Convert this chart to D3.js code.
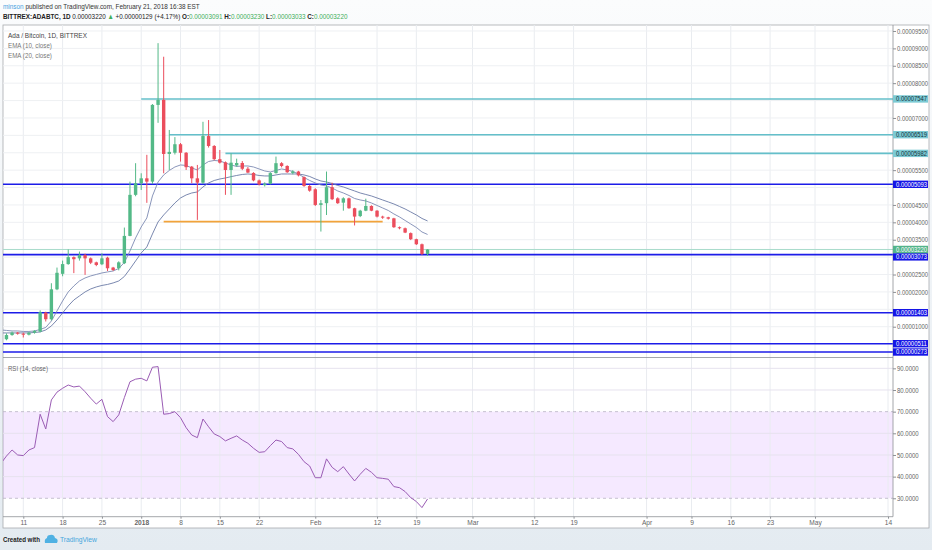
<!DOCTYPE html>
<html>
<head>
<meta charset="utf-8">
<script src="https://cdn.jsdelivr.net/npm/d3@7"></script>
<style>
  body { margin:0; background:#eef2f5; }
  svg { display:block; font-family:"Liberation Sans", Arial, sans-serif; }
</style>
</head>
<body>
<div id="chart"></div>
<script>
// Daily candles ADA/BTC, values in satoshi (1e-8 BTC)
const firstCandle = '2017-12-08';
const opens = [640,760,830,800,770,830,
    860,1405,1215,2075,2520,2800,3000,2965,3060,2965,
    2850,2795,2985,2700,2680,2825,3610,4790,5125,5265,
    5170,7375,7520,5965,6000,6245,6000,5600,5265,5140,
    6480,6195,5815,5725,5505,5635,5705,5540,5420,5205,
    5070,5110,5415,5700,5620,5420,5460,5300,5045,4950,
    4500,4550,5010,4690,4565,4690,4405,4180,4335,4470,
    4335,4165,4145,4115,3860,3830,3690,3515,3370,3091];
const highs = [810,860,850,830,850,900,
    1470,1430,2250,2700,2900,3220,3020,3160,3100,2990,
    2870,3110,3010,2720,2880,3850,5170,5700,5410,5940,
    7400,9150,8760,6655,6450,6280,6020,5620,5650,6890,
    6940,6220,6080,5750,5980,5830,5760,5590,5440,5230,
    5150,5440,5890,5730,5640,5500,5480,5320,5080,4980,
    4640,5460,5140,4720,4720,4710,4420,4360,4680,4490,
    4350,4190,4160,4130,3880,3850,3710,3530,3390,3230];
const lows = [610,740,770,690,750,800,
    840,1150,1180,2050,2450,2780,2540,2900,2490,2800,
    2740,2770,2600,2600,2620,2800,3600,4750,4930,4560,
    5100,6860,5410,5505,5950,5745,5505,5125,4070,5100,
    6150,5780,5690,4790,4790,5600,5500,5420,5180,5060,
    5030,5090,5400,5580,5420,5380,5320,5020,4880,4470,
    3735,4210,4640,4530,4335,4390,3910,4150,4320,4320,
    4140,4100,4080,3840,3800,3690,3490,3350,3060,3033];
const closes = [760,830,800,770,830,880,
    1415,1215,2075,2550,2800,3000,2940,3060,2965,2840,
    2775,2965,2680,2630,2850,3610,4790,5125,5265,5170,
    7375,7520,5965,6025,6245,6000,5585,5265,5140,6480,
    6195,5815,5715,5505,5715,5705,5540,5430,5205,5090,
    5110,5415,5700,5620,5440,5460,5350,5045,4910,4500,
    4550,5010,4665,4550,4690,4405,4165,4335,4470,4335,
    4165,4135,4105,3860,3830,3705,3515,3370,3090,3220];

// Indicators start one day earlier (cut by the pane edge)
const firstIndicator = '2017-12-07';
const ema10 = [907,893,878,878,864,864,878,
    921,979,1165,1453,1740,1999,2171,2315,2401,2459,
    2502,2545,2574,2602,2674,2847,3177,3551,3867,4126,
    4758,5160,5362,5491,5591,5649,5635,5563,5505,5649,
    5749,5778,5764,5706,5649,5606,5620,5620,5591,5534,
    5476,5448,5491,5534,5505,5462,5390,5290,5203,5132,
    5074,5045,4988,4902,4844,4772,4686,4643,4614,4557,
    4485,4413,4341,4241,4155,4054,3953,3853,3723,3651];
const ema20 = [821,821,821,821,821,821,835,
    849,907,1022,1194,1395,1597,1769,1884,1999,2085,
    2143,2186,2215,2258,2315,2444,2660,2890,3120,3292,
    3666,4011,4212,4384,4557,4701,4787,4844,4873,5017,
    5132,5203,5246,5275,5313,5347,5376,5390,5376,5347,
    5333,5333,5362,5390,5390,5390,5390,5362,5318,5247,
    5189,5160,5117,5060,5017,4959,4902,4844,4801,4758,
    4701,4643,4586,4528,4456,4384,4298,4212,4112,4040];
const rsi = [46,49.5,52.3,50,49.7,52.3,53.4,
    68.8,62,75.4,79,80.8,82.3,81.4,81.8,79.2,76.2,
    73.5,75.7,67.7,65.4,68.5,76.5,83.8,85,85.4,84.2,
    90.5,90.8,68.8,69.1,70,67.2,62.6,59.2,58,66.6,
    63,59.7,58.5,56.5,57.7,58.8,56.9,55.4,53.1,51.2,
    51.5,54.3,56.9,56.2,53.4,52.8,50.3,46.9,44.9,39.5,
    39.5,48.2,44.3,42.3,44.6,41.2,38,41.1,43.8,42,
    39.5,39.2,38.8,35.4,34.9,33.1,30.3,28.5,25.7,29.7];

// Axis ticks
const priceTicks = [1000,1500,2000,2500,3000,3500,4000,4500,5000,5500,6000,6500,7000,7500,8000,8500,9000,9500];
const rsiTicks = [30,40,50,60,70,80,90];
const xTickDates = ['2017-12-11','2017-12-18','2017-12-25','2018-01-01','2018-01-08','2018-01-15','2018-01-22',
    '2018-02-01','2018-02-12','2018-02-19','2018-03-01','2018-03-12','2018-03-19','2018-04-01','2018-04-09',
    '2018-04-16','2018-04-23','2018-05-01','2018-05-14'];
const xTickLabels = ['11','18','25','2018','8','15','22','Feb','12','19','Mar','12','19','Apr','9','16','23','May','14'];

// Drawn levels
const blueLevels = [5093,3073,1403,511,273];
const tealLevels = [7547,6519,5982];
const tealStarts = ['2018-01-01','2018-01-06','2018-01-16'];
const orangeLevel = 4020;
const orangeSpan = ['2018-01-05','2018-02-13'];
const lastPrice = 3220;

const width = 932, height = 550;
const paneL = 3, paneR = 893, paneT = 25, paneSplit = 357.5, paneB = 516.7;

const parse = d3.utcParse('%Y-%m-%d');
const fmt = v => (v/1e8).toFixed(8);

const x = d3.scaleUtc().domain([parse('2017-12-11'), parse('2018-05-14')]).range([23.3, 888]);
const y = d3.scaleLinear().domain([115, 9672]).range([paneSplit, paneT]);
const yR = d3.scaleLinear().domain([21.5, 95]).range([paneB, paneSplit]);

const candles = opens.map((o,i)=>({
    date: d3.utcDay.offset(parse(firstCandle), i), o:o, h:highs[i], l:lows[i], c:closes[i]}));
const ind = ema10.map((e,i)=>({
    date: d3.utcDay.offset(parse(firstIndicator), i), e10:e, e20:ema20[i], rsi:rsi[i]}));

// squeeze a text horizontally to the width it has in the picture
function fitWidth(sel, w){
    const len = sel.node().getComputedTextLength();
    const x0 = +sel.attr('x');
    sel.attr('transform','translate('+x0+',0) scale('+(w/len)+',1) translate('+(-x0)+',0)');
}

const svg = d3.select('#chart').append('svg')
    .attr('width', width)
    .attr('height', height);

// page background
const defs = svg.append('defs');
const grad = defs.append('linearGradient')
    .attr('id','bg').attr('x1',0).attr('y1',0).attr('x2',0).attr('y2',1);
grad.append('stop').attr('offset','0%').attr('stop-color','#fbfcfd');
grad.append('stop').attr('offset','100%').attr('stop-color','#e4ebf1');
svg.append('rect').attr('width',width).attr('height',height).style('fill','url(#bg)');

defs.append('clipPath').attr('id','mainClip')
    .append('rect').attr('x',paneL).attr('y',paneT).attr('width',paneR-paneL).attr('height',paneSplit-paneT);
defs.append('clipPath').attr('id','rsiClip')
    .append('rect').attr('x',paneL).attr('y',paneSplit).attr('width',paneR-paneL).attr('height',paneB-paneSplit);

// chart frame
svg.append('rect')
    .attr('x',paneL).attr('y',paneT).attr('width',926).attr('height',528-paneT)
    .style('fill','#ffffff')
    .style('stroke','#a9abae')
    .style('stroke-width',0.8);

// RSI band
svg.append('rect')
    .attr('x',paneL).attr('width',paneR-paneL)
    .attr('y',yR(70)).attr('height',yR(30)-yR(70))
    .style('fill','#9c27ff').style('fill-opacity',0.1);

// grid
const grid = svg.append('g');
grid.selectAll('.vgrid')
    .data(xTickDates)
    .enter().append('line')
    .attr('x1',d=>x(parse(d))).attr('x2',d=>x(parse(d)))
    .attr('y1',paneT).attr('y2',paneB)
    .style('stroke','#e9ecf0').style('stroke-width',1);
grid.selectAll('.hgrid')
    .data(priceTicks)
    .enter().append('line')
    .attr('x1',paneL).attr('x2',paneR)
    .attr('y1',d=>y(d)).attr('y2',d=>y(d))
    .style('stroke','#eef0f3').style('stroke-width',1);
grid.selectAll('.rgrid')
    .data(rsiTicks.filter(d=>d!=30 && d!=70))
    .enter().append('line')
    .attr('x1',paneL).attr('x2',paneR)
    .attr('y1',d=>yR(d)).attr('y2',d=>yR(d))
    .style('stroke','#e6e2ee').style('stroke-width',1);
svg.selectAll('.band')
    .data([30,70])
    .enter().append('line')
    .attr('x1',paneL).attr('x2',paneR)
    .attr('y1',d=>yR(d)).attr('y2',d=>yR(d))
    .style('stroke','#b9b3c4').style('stroke-width',0.8)
    .style('stroke-dasharray','3,3');

// main pane drawings
const main = svg.append('g').attr('clip-path','url(#mainClip)');

main.append('line')
    .attr('x1',paneL).attr('x2',paneR)
    .attr('y1',y(lastPrice)).attr('y2',y(lastPrice))
    .style('stroke','#a8dccb').style('stroke-width',1);

main.selectAll('.teal')
    .data(tealLevels)
    .enter().append('line')
    .attr('x1',(d,i)=>x(parse(tealStarts[i]))).attr('x2',paneR)
    .attr('y1',d=>y(d)).attr('y2',d=>y(d))
    .style('stroke','#64bfca').style('stroke-width',1.6);

main.selectAll('.blue')
    .data(blueLevels)
    .enter().append('line')
    .attr('x1',paneL).attr('x2',paneR)
    .attr('y1',d=>y(d)).attr('y2',d=>y(d))
    .style('stroke','#1c1ce8').style('stroke-width',1.6);

main.append('line')
    .attr('x1',x(parse(orangeSpan[0]))).attr('x2',x(parse(orangeSpan[1])))
    .attr('y1',y(orangeLevel)).attr('y2',y(orangeLevel))
    .style('stroke','#f2a33a').style('stroke-width',1.6);

// EMA lines
const emaLine = key => d3.line().x(d=>x(d.date)).y(d=>y(d[key]));
main.append('path').datum(ind)
    .attr('d',emaLine('e20'))
    .style('fill','none').style('stroke','#6b7aa6').style('stroke-width',0.9);
main.append('path').datum(ind)
    .attr('d',emaLine('e10'))
    .style('fill','none').style('stroke','#7d8ab2').style('stroke-width',0.9);

// candles
const up = '#53b987', down = '#eb4d5c', bw = 3.4;
const cg = main.selectAll('.candle')
    .data(candles)
    .enter().append('g');
cg.append('line')
    .attr('x1',d=>x(d.date)).attr('x2',d=>x(d.date))
    .attr('y1',d=>y(d.h)).attr('y2',d=>y(d.l))
    .style('stroke',d=>d.c>=d.o?up:down).style('stroke-width',1);
cg.append('rect')
    .attr('x',d=>x(d.date)-bw/2).attr('width',bw)
    .attr('y',d=>y(Math.max(d.o,d.c)))
    .attr('height',d=>Math.max(1,Math.abs(y(d.o)-y(d.c))))
    .style('fill',d=>d.c>=d.o?up:down);

// RSI line
svg.append('g').attr('clip-path','url(#rsiClip)')
    .append('path').datum(ind)
    .attr('d',d3.line().x(d=>x(d.date)).y(d=>yR(d.rsi)))
    .style('fill','none').style('stroke','#9a5cb4').style('stroke-width',1);

// pane borders
svg.append('line').attr('x1',paneR).attr('x2',paneR).attr('y1',paneT).attr('y2',paneB)
    .style('stroke','#8d9095').style('stroke-width',0.8);
svg.append('line').attr('x1',paneL).attr('x2',paneR).attr('y1',paneSplit).attr('y2',paneSplit)
    .style('stroke','#8d9095').style('stroke-width',0.8);
svg.append('line').attr('x1',paneL).attr('x2',paneR).attr('y1',paneB).attr('y2',paneB)
    .style('stroke','#8d9095').style('stroke-width',0.8);

// axes (tick labels hidden by the level labels are left out, as in the picture)
const lblH = 7.4;
const marked = blueLevels.concat(tealLevels, [lastPrice]);
const shownTicks = priceTicks.filter(t=>marked.every(m=>Math.abs(y(t)-y(m)) > lblH));

const yAxis = d3.axisRight(y).tickValues(shownTicks).tickFormat(fmt).tickSize(3).tickSizeOuter(0);
const yAxisR = d3.axisRight(yR).tickValues(rsiTicks).tickFormat(d=>d.toFixed(4)).tickSize(3).tickSizeOuter(0);
const xAxis = d3.axisBottom(x).tickValues(xTickDates.map(parse))
    .tickFormat((d,i)=>xTickLabels[i]).tickSize(2).tickSizeOuter(0);

const charW = 3.1;
[svg.append('g').attr('transform','translate('+paneR+',0)').call(yAxis),
 svg.append('g').attr('transform','translate('+paneR+',0)').call(yAxisR)].forEach(g=>{
    g.select('.domain').remove();
    g.selectAll('line').style('stroke','#8d9095');
    g.selectAll('text').attr('x',4)
        .style('fill','#666').style('font-size','6.6px')
        .style('font-family','"Liberation Sans", Arial, sans-serif')
        .each(function(){ fitWidth(d3.select(this), this.textContent.length*charW); });
});
const xg = svg.append('g').attr('transform','translate(0,'+paneB+')').call(xAxis);
xg.select('.domain').remove();
xg.selectAll('line').style('stroke','#8d9095');
xg.selectAll('text').attr('y',4)
    .style('fill','#666').style('font-size','6.6px')
    .style('font-family','"Liberation Sans", Arial, sans-serif')
    .style('font-weight',(d,i)=>xTickLabels[i]=='2018'?'bold':'normal');

// price labels on the axis
function priceLabel(v, ly, bg, fg){
    svg.append('rect')
        .attr('x',paneR).attr('y',ly-lblH/2).attr('width',35).attr('height',lblH)
        .style('fill',bg);
    const t = svg.append('text')
        .attr('x',paneR+3).attr('y',ly).attr('dy','0.34em')
        .style('font-size','6.6px').style('fill',fg)
        .text(fmt(v));
    fitWidth(t, 10*charW);
}
tealLevels.forEach(v=>priceLabel(v, y(v), '#7ccad4', '#16323a'));
blueLevels.forEach(v=>{
    let ly = y(v);
    if (Math.abs(ly - y(lastPrice)) < lblH) ly = y(lastPrice) + lblH;
    priceLabel(v, ly, '#1515e6', '#ffffff');
});
priceLabel(lastPrice, y(lastPrice), '#53b48a', '#ffffff');

// header
const h1 = svg.append('text').attr('x',3).attr('y',9).style('font-size','7.8px').style('fill','#333');
h1.append('tspan').style('fill','#4aa3df').text('minson');
h1.append('tspan').text(' published on TradingView.com, February 21, 2018 16:38 EST');
fitWidth(h1, 197);

const green = '#3fae5a';
const h2 = svg.append('text').attr('x',3).attr('y',19.5).style('font-size','7.8px').style('fill','#222');
h2.append('tspan').style('font-weight','bold').text('BITTREX:ADABTC, 1D');
h2.append('tspan').text(' 0.00003220 ');
h2.append('tspan').style('fill',green).text('▲');
h2.append('tspan').text(' +0.00000129 (+4.17%) ');
[['O:','0.00003091'],['H:','0.00003230'],['L:','0.00003033'],['C:','0.00003220']].forEach((p,i)=>{
    h2.append('tspan').style('font-weight','bold').text(p[0]);
    h2.append('tspan').style('fill',green).text(i<3 ? p[1]+' ' : p[1]);
});
fitWidth(h2, 345);

// pane legends
const legends = [
    {t:'Ada / Bitcoin, 1D, BITTREX', y:38, w:79, c:'#444'},
    {t:'EMA (10, close)', y:48, w:44, c:'#777'},
    {t:'EMA (20, close)', y:58, w:44, c:'#777'},
    {t:'RSI (14, close)', y:371.5, w:40, c:'#666'}
];
legends.forEach(l=>{
    const t = svg.append('text').attr('x',8).attr('y',l.y)
        .style('font-size','7.6px').style('fill',l.c).text(l.t);
    fitWidth(t, l.w);
});

// footer
const made = svg.append('text').attr('x',3).attr('y',542.5).style('font-size','7.8px').style('fill','#222')
    .style('font-weight','bold').text('Created with');
fitWidth(made, 37);
svg.append('path')
    .attr('d','M45,543 L57,543 Q59,539 55,538 Q54,534 50,535 Q47,535 47,538 Q44,539 45,543 Z')
    .style('fill','#4fb1e3');
const tv = svg.append('text').attr('x',60).attr('y',542.5).style('font-size','7.8px').style('fill','#45a6dd')
    .text('TradingView');
fitWidth(tv, 37);
</script>
</body>
</html>
